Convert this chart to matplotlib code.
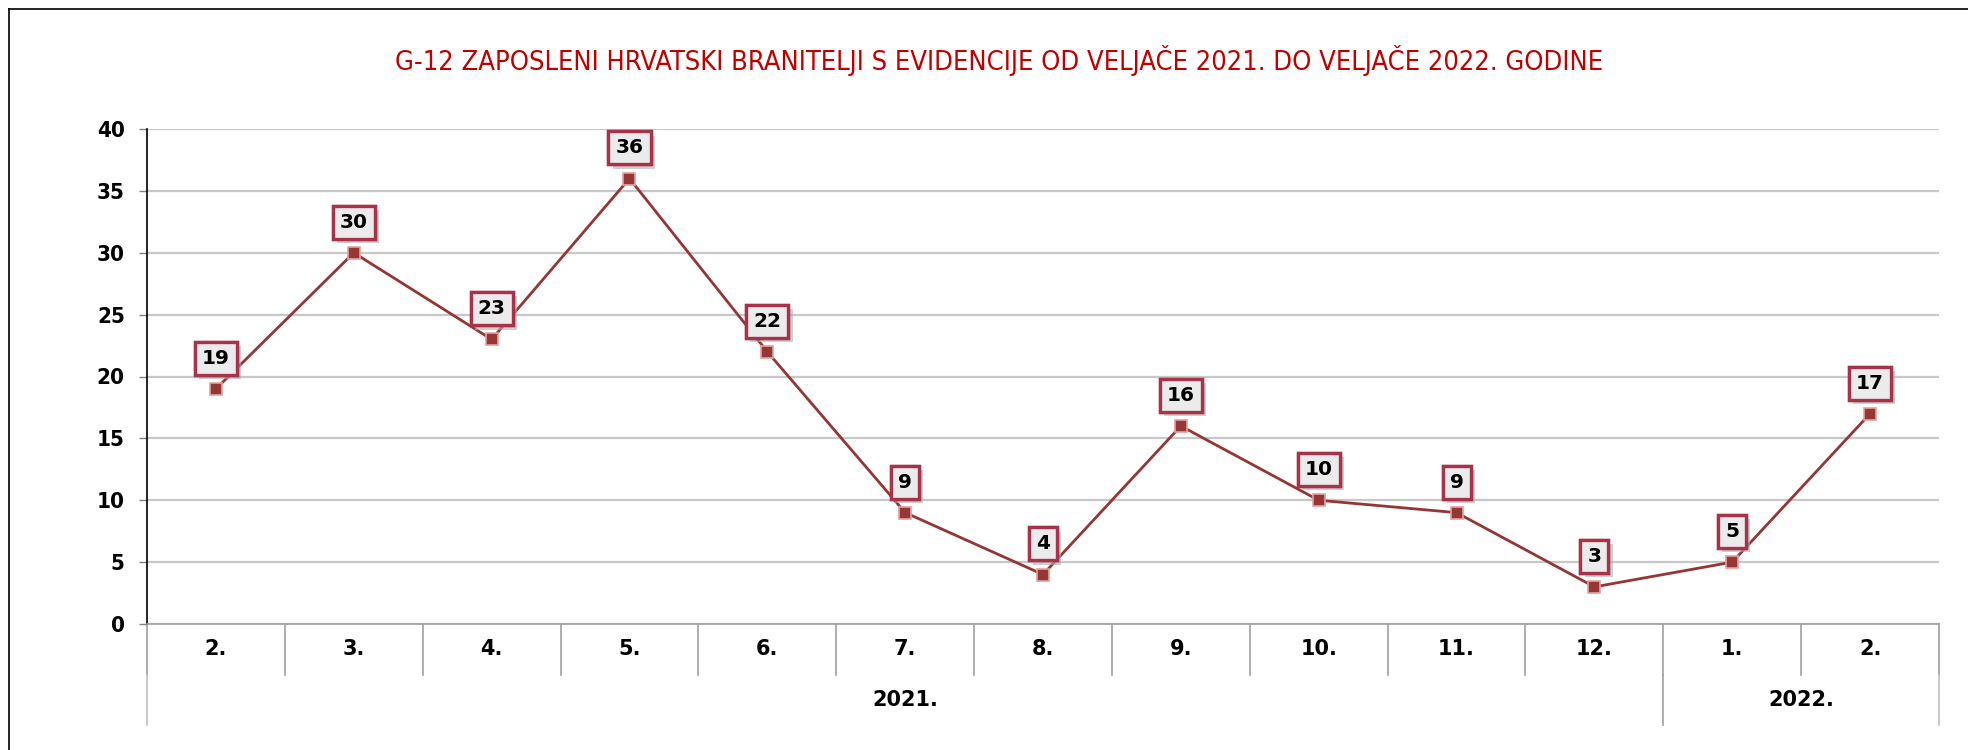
import matplotlib
matplotlib.use("Agg")
import matplotlib.pyplot as plt
import matplotlib.patheffects as pe
from matplotlib.transforms import blended_transform_factory
from matplotlib.lines import Line2D
from matplotlib import font_manager as fm

title = "G-12 ZAPOSLENI HRVATSKI BRANITELJI S EVIDENCIJE OD VELJAČE 2021. DO VELJAČE 2022. GODINE"
months = ["2.", "3.", "4.", "5.", "6.", "7.", "8.", "9.", "10.", "11.", "12.", "1.", "2."]
years = ["2021.", "2022."]
year_counts = [11, 2]
values = [19, 30, 23, 36, 22, 9, 4, 16, 10, 9, 3, 5, 17]
yticks = [0, 5, 10, 15, 20, 25, 30, 35, 40]

names = {f.name for f in fm.fontManager.ttflist}
if "Liberation Sans Narrow" in names:
    NARROW = dict(family="Liberation Sans Narrow")
else:
    NARROW = dict(family="DejaVu Sans", stretch="condensed")
LINE_C = "#943634"
MARK_FACE = "#953735"
MARK_EDGE = "#E6A0A0"

fig = plt.figure(figsize=(19.68, 7.5), dpi=100)
fig.patch.set_facecolor("white")

# outer chart border (left and top visible)
fig.add_artist(Line2D([9/1968, 9/1968], [0, 1 - 9/750], transform=fig.transFigure, color="black", lw=1.2))
fig.add_artist(Line2D([9/1968, 1], [1 - 9/750, 1 - 9/750], transform=fig.transFigure, color="black", lw=1.2))

ax = fig.add_axes([147/1968, 126/750, (1939-147)/1968, (624-129)/750])
x = list(range(len(values)))
ax.set_xlim(-0.5, len(values) - 0.5)
ax.set_ylim(0, 40)
ax.set_yticks(yticks)
ax.set_yticklabels([str(v) for v in yticks], fontsize=16, fontweight="bold", **NARROW)
ax.set_xticks([])
for s in ["top", "right"]:
    ax.spines[s].set_visible(False)
ax.spines["left"].set_color("black")
ax.spines["left"].set_linewidth(1.2)
ax.spines["bottom"].set_color("#A0A0A0")
ax.spines["bottom"].set_linewidth(1.2)
ax.tick_params(axis="y", length=6, width=1, color="#808080", pad=10)
ax.grid(axis="y", color="#C8C8C8", lw=1.6)
ax.set_axisbelow(True)

ax.plot(x, values, color=LINE_C, lw=2, zorder=3)
ax.plot(x, values, ls="none", marker="s", ms=9, mfc=MARK_FACE, mec=MARK_EDGE, mew=1.2, zorder=4)

for xi, v in zip(x, values):
    t = ax.annotate(str(v), (xi, v), xytext=(0, 22), textcoords="offset points",
                    ha="center", va="center", fontsize=14.5, fontweight="bold",
                    family="DejaVu Sans", color="black", zorder=6,
                    bbox=dict(boxstyle="square,pad=0.35", fc="#EBEBEB", ec="#A8324A", lw=2.4))
    t.get_bbox_patch().set_path_effects([pe.withSimplePatchShadow(offset=(3, -3), shadow_rgbFace="#B0B0B0", alpha=0.6), pe.Normal()])

# multi-level category axis
tr = blended_transform_factory(ax.transData, ax.transAxes)
lvl1 = -0.103
lvl2 = -0.204
sep_c = "#A0A0A0"
for i in range(len(months) + 1):
    xb = i - 0.5
    ax.add_line(Line2D([xb, xb], [0, lvl1], transform=tr, color=sep_c, lw=1.2, clip_on=False))
for i, m in enumerate(months):
    ax.text(i, lvl1 / 2, m, transform=tr, ha="center", va="center", fontsize=15,
            fontweight="bold", family="DejaVu Sans")
start = 0
bounds = [-0.5]
for y, c in zip(years, year_counts):
    ax.text(start + (c - 1) / 2, (lvl1 + lvl2) / 2, y, transform=tr, ha="center", va="center",
            fontsize=15, fontweight="bold", family="DejaVu Sans")
    start += c
    bounds.append(start - 0.5)
for b in bounds:
    ax.add_line(Line2D([b, b], [lvl1, lvl2], transform=tr, color="#C0C0C0" if b in (bounds[0], bounds[-1]) else sep_c, lw=1.2, clip_on=False))

fig.text(999/1968, 1 - 60/750, title, ha="center", va="center", color="#C00000",
         fontsize=19.5, **NARROW)

fig.savefig("out.png", dpi=100)
